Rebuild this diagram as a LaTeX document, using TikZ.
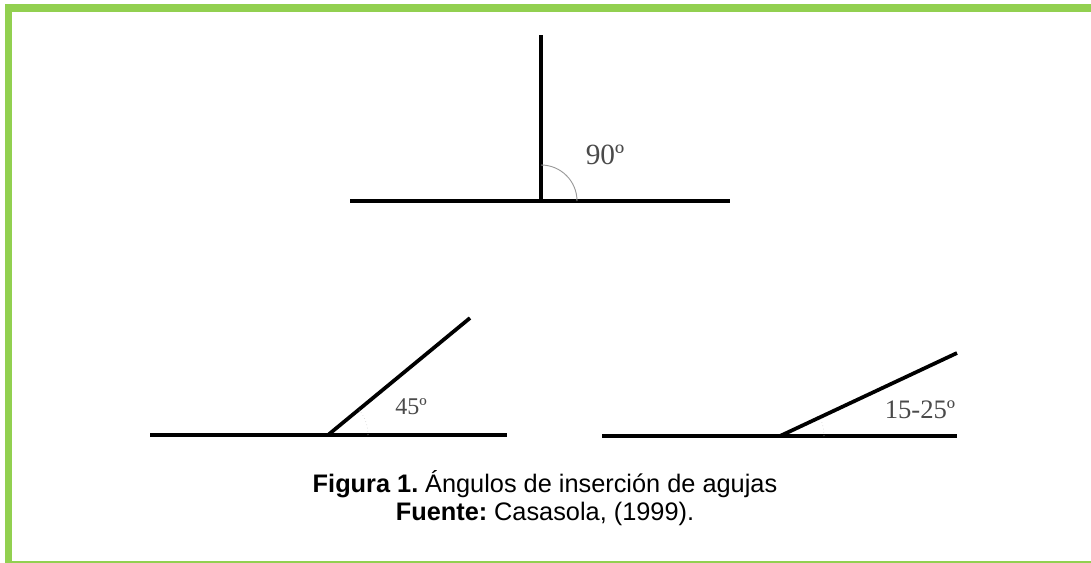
\documentclass[tikz,border=0pt]{standalone}
\usepackage{fontspec}
\setmainfont{Liberation Serif}
\newfontfamily\captionfont{Liberation Sans}
\usetikzlibrary{calc,positioning}
\definecolor{BorderGreen}{HTML}{92D050}
\definecolor{LabelGray}{HTML}{4A4A4A}
\definecolor{SweepGray}{HTML}{9A9A9A}

\begin{document}
\begin{tikzpicture}[
    x=0.75pt, y=-0.75pt,
    bar/.style={line width=2.8pt, draw=black},
    sweep/.style={draw=SweepGray, line width=0.7pt},
    faint/.style={draw=SweepGray!45, line width=0.5pt, dotted},
    anglelabel/.style={text=LabelGray, inner sep=0pt},
    caption/.style={font=\captionfont\fontsize{19}{22}\selectfont, inner sep=0pt}
]
\useasboundingbox (0,0) rectangle (1091,563);

% green frame (open on the right)
\fill[BorderGreen] (5,4) rectangle (1091,12);
\fill[BorderGreen] (5,4) rectangle (12,563);
\fill[BorderGreen] (12,560.5) rectangle (1091,562.5);

% 90 degrees
\coordinate (baseL1) at (350,201);
\coordinate (baseR1) at (730,201);
\coordinate (vert1) at (541,201);
\coordinate (tip1) at (541,35);
\draw[bar] (baseL1) -- (baseR1);
\draw[bar] (vert1) -- (tip1);
\draw[sweep] (vert1) ++(0,-36) arc[start angle=90, end angle=0, radius=27pt];
\node[anglelabel, font=\fontsize{22}{25}\selectfont] (lab90) at (605,155) {90º};

% 45 degrees
\coordinate (baseL2) at (150,435);
\coordinate (baseR2) at (507,435);
\coordinate (vert2) at (328,435);
\coordinate (tip2) at (470,318);
\draw[bar] (baseL2) -- (baseR2);
\draw[bar] (vert2) -- (tip2);
\draw[faint] (vert2) ++(40,0) arc[start angle=0, end angle=39.5, radius=30pt];
\node[anglelabel, font=\fontsize{18}{21}\selectfont] (lab45) at (411,407) {45º};

% 15-25 degrees
\coordinate (baseL3) at (602,436);
\coordinate (baseR3) at (957,436);
\coordinate (vert3) at (780,436);
\coordinate (tip3) at (957,353);
\draw[bar] (baseL3) -- (baseR3);
\draw[bar] (vert3) -- (tip3);
\draw[faint] (vert3) ++(44,0) arc[start angle=0, end angle=25, radius=33pt];
\node[anglelabel, font=\fontsize{20}{23}\selectfont] (lab1525) at (920,410) {15-25º};

% caption
\node[caption] (capfig) at (545,484) {\textbf{Figura 1.}\hspace{-0.1em} Ángulos de inserción de agujas};
\node[caption, below=3pt of capfig] (capsrc) {\textbf{Fuente:}\hspace{-0.1em} Casasola, (1999).};
\end{tikzpicture}
\end{document}
